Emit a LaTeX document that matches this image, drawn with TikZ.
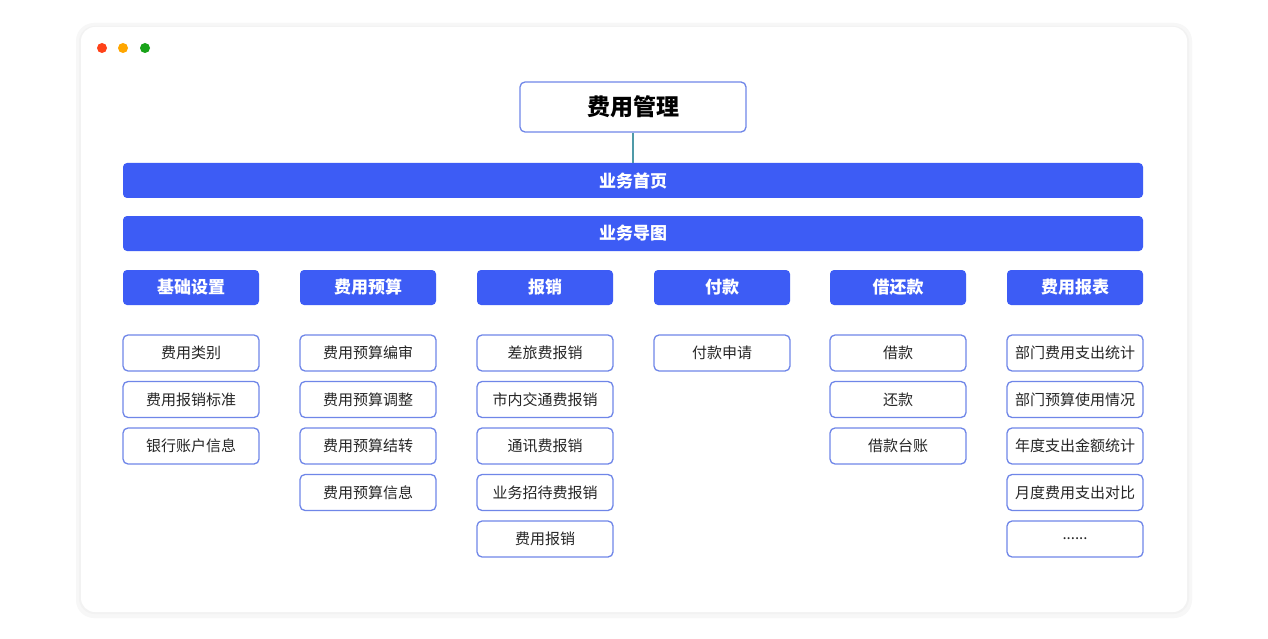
\documentclass[tikz,border=0pt]{standalone}
\usepackage{fontspec}
\setmainfont{Noto Sans CJK SC}
\definecolor{bl}{HTML}{3D5CF5}
\definecolor{bd}{HTML}{6F86E8}
\definecolor{ln}{HTML}{4F9AA8}
\begin{document}
\begin{tikzpicture}[x=1pt,y=-1pt,
 bar/.style={fill=bl,draw=none,rounded corners=4pt,text=white,font=\fontsize{17}{19}\selectfont\bfseries},
 hd/.style={fill=bl,draw=none,rounded corners=4pt,text=white,minimum width=136pt,minimum height=35pt,font=\fontsize{17}{19}\selectfont\bfseries},
 it/.style={draw=bd,line width=1.3pt,fill=white,rounded corners=5pt,minimum width=136pt,minimum height=36pt,font=\fontsize{15}{17}\selectfont,text=black!85}]
\useasboundingbox (0,0) rectangle (1268,639);
\fill[white] (0,0) rectangle (1268,639);
\fill[black!3,rounded corners=18pt] (76,23) rectangle (1192,618);
\fill[black!5,rounded corners=16pt] (79,26) rectangle (1189,614);
\fill[white,rounded corners=14pt] (81,27) rectangle (1187,612);
\fill[red!65!orange!90!white] (102,48) circle (5);
\fill[orange!70!yellow] (123,48) circle (5);
\fill[green!60!black!90!white] (145,48) circle (5);
\node[draw=bd,line width=1.3pt,rounded corners=5pt,minimum width=226pt,minimum height=50pt,font=\fontsize{23}{25}\selectfont\bfseries] (top) at (633,107) {费用管理};
\node[bar,minimum width=1020pt,minimum height=35pt] (b1) at (633,180.5) {业务首页};
\node[bar,minimum width=1020pt,minimum height=35pt] (b2) at (633,233.5) {业务导图};
\draw[ln,line width=1.2pt] (top.south) -- (b1.north);
\foreach \x/\h [count=\i] in {191/基础设置,368/费用预算,545/报销,722/付款,898/借还款,1075/费用报表}
  \node[hd] (h\i) at (\x,287.5) {\h};
\foreach \t [count=\j] in {费用类别,费用报销标准,银行账户信息}
  \node[it] (a\j) at (191,{353+(\j-1)*46.5}) {\t};
\foreach \t [count=\j] in {费用预算编审,费用预算调整,费用预算结转,费用预算信息}
  \node[it] (b\j) at (368,{353+(\j-1)*46.5}) {\t};
\foreach \t [count=\j] in {差旅费报销,市内交通费报销,通讯费报销,业务招待费报销,费用报销}
  \node[it] (c\j) at (545,{353+(\j-1)*46.5}) {\t};
\node[it] (d1) at (722,353) {付款申请};
\foreach \t [count=\j] in {借款,还款,借款台账}
  \node[it] (e\j) at (898,{353+(\j-1)*46.5}) {\t};
\foreach \t [count=\j] in {部门费用支出统计,部门预算使用情况,年度支出金额统计,月度费用支出对比}
  \node[it] (f\j) at (1075,{353+(\j-1)*46.5}) {\t};
\node[it] (f5) at (1075,539) {......};
\end{tikzpicture}
\end{document}
